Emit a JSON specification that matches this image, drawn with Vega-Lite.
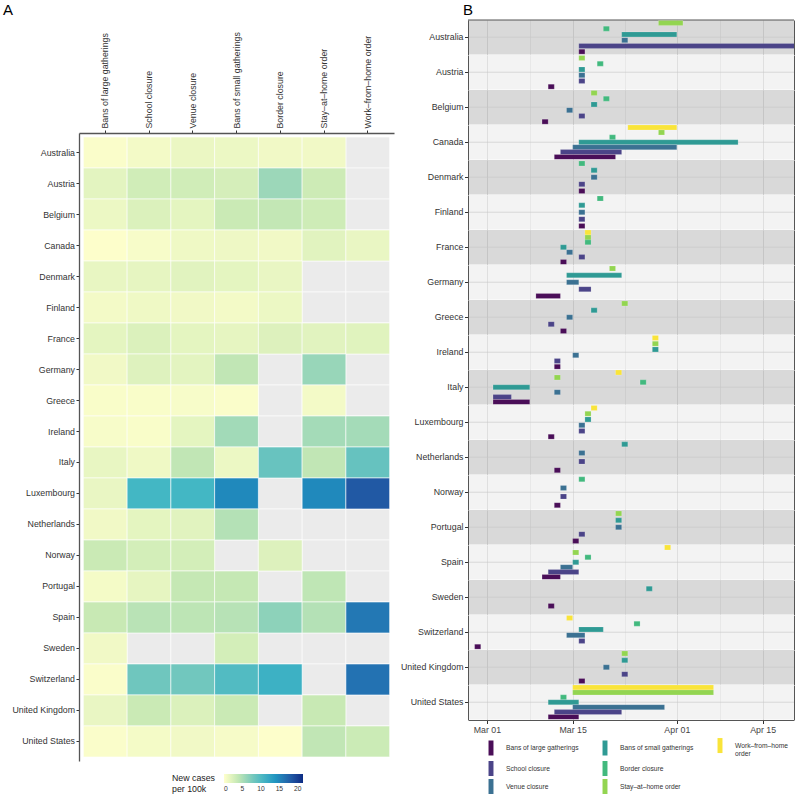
{
  "$schema": "https://vega.github.io/schema/vega-lite/v6.json",
  "padding": {"left": 3, "top": 2, "right": 0, "bottom": 0},
  "config": {
    "font": "Liberation Sans",
    "view": {"stroke": null},
    "axis": {"labelFont": "Liberation Sans", "labelFontSize": 8.8, "labelColor": "#333333", "tickColor": "#333333", "domainColor": "#555555", "tickSize": 3.5, "titleFontWeight": "normal"},
    "header": {"labelFont": "Liberation Sans"},
    "legend": {"labelFont": "Liberation Sans", "titleFont": "Liberation Sans"},
    "title": {"font": "Liberation Sans", "fontSize": 15, "fontWeight": "normal", "anchor": "start", "color": "#000000"}
  },
  "datasets": {
    "heat": [
      {"country": "Australia", "measure": "Bans of large gatherings", "value": 0.3},
      {"country": "Australia", "measure": "School closure", "value": 0.8},
      {"country": "Australia", "measure": "Venue closure", "value": 1.3},
      {"country": "Australia", "measure": "Bans of small gatherings", "value": 1.2},
      {"country": "Australia", "measure": "Border closure", "value": 0.9},
      {"country": "Australia", "measure": "Stay–at–home order", "value": 0.9},
      {"country": "Australia", "measure": "Work–from–home order", "value": null},
      {"country": "Austria", "measure": "Bans of large gatherings", "value": 1.8},
      {"country": "Austria", "measure": "School closure", "value": 3.0},
      {"country": "Austria", "measure": "Venue closure", "value": 3.0},
      {"country": "Austria", "measure": "Bans of small gatherings", "value": 2.7},
      {"country": "Austria", "measure": "Border closure", "value": 5.8},
      {"country": "Austria", "measure": "Stay–at–home order", "value": 3.2},
      {"country": "Austria", "measure": "Work–from–home order", "value": null},
      {"country": "Belgium", "measure": "Bans of large gatherings", "value": 1.2},
      {"country": "Belgium", "measure": "School closure", "value": 2.3},
      {"country": "Belgium", "measure": "Venue closure", "value": 1.7},
      {"country": "Belgium", "measure": "Bans of small gatherings", "value": 3.4},
      {"country": "Belgium", "measure": "Border closure", "value": 3.8},
      {"country": "Belgium", "measure": "Stay–at–home order", "value": 3.1},
      {"country": "Belgium", "measure": "Work–from–home order", "value": null},
      {"country": "Canada", "measure": "Bans of large gatherings", "value": 0.1},
      {"country": "Canada", "measure": "School closure", "value": 0.5},
      {"country": "Canada", "measure": "Venue closure", "value": 1.0},
      {"country": "Canada", "measure": "Bans of small gatherings", "value": 1.1},
      {"country": "Canada", "measure": "Border closure", "value": 0.9},
      {"country": "Canada", "measure": "Stay–at–home order", "value": 1.9},
      {"country": "Canada", "measure": "Work–from–home order", "value": 1.4},
      {"country": "Denmark", "measure": "Bans of large gatherings", "value": 1.5},
      {"country": "Denmark", "measure": "School closure", "value": 1.6},
      {"country": "Denmark", "measure": "Venue closure", "value": 1.9},
      {"country": "Denmark", "measure": "Bans of small gatherings", "value": 1.7},
      {"country": "Denmark", "measure": "Border closure", "value": 1.4},
      {"country": "Denmark", "measure": "Stay–at–home order", "value": null},
      {"country": "Denmark", "measure": "Work–from–home order", "value": null},
      {"country": "Finland", "measure": "Bans of large gatherings", "value": 0.8},
      {"country": "Finland", "measure": "School closure", "value": 1.0},
      {"country": "Finland", "measure": "Venue closure", "value": 0.9},
      {"country": "Finland", "measure": "Bans of small gatherings", "value": 0.8},
      {"country": "Finland", "measure": "Border closure", "value": 1.2},
      {"country": "Finland", "measure": "Stay–at–home order", "value": null},
      {"country": "Finland", "measure": "Work–from–home order", "value": null},
      {"country": "France", "measure": "Bans of large gatherings", "value": 1.7},
      {"country": "France", "measure": "School closure", "value": 2.3},
      {"country": "France", "measure": "Venue closure", "value": 1.7},
      {"country": "France", "measure": "Bans of small gatherings", "value": 1.6},
      {"country": "France", "measure": "Border closure", "value": 2.2},
      {"country": "France", "measure": "Stay–at–home order", "value": 1.9},
      {"country": "France", "measure": "Work–from–home order", "value": 2.0},
      {"country": "Germany", "measure": "Bans of large gatherings", "value": 0.9},
      {"country": "Germany", "measure": "School closure", "value": 2.1},
      {"country": "Germany", "measure": "Venue closure", "value": 1.8},
      {"country": "Germany", "measure": "Bans of small gatherings", "value": 3.9},
      {"country": "Germany", "measure": "Border closure", "value": null},
      {"country": "Germany", "measure": "Stay–at–home order", "value": 6.0},
      {"country": "Germany", "measure": "Work–from–home order", "value": null},
      {"country": "Greece", "measure": "Bans of large gatherings", "value": 0.4},
      {"country": "Greece", "measure": "School closure", "value": 0.4},
      {"country": "Greece", "measure": "Venue closure", "value": 0.5},
      {"country": "Greece", "measure": "Bans of small gatherings", "value": 0.3},
      {"country": "Greece", "measure": "Border closure", "value": null},
      {"country": "Greece", "measure": "Stay–at–home order", "value": 0.8},
      {"country": "Greece", "measure": "Work–from–home order", "value": null},
      {"country": "Ireland", "measure": "Bans of large gatherings", "value": 0.5},
      {"country": "Ireland", "measure": "School closure", "value": 0.4},
      {"country": "Ireland", "measure": "Venue closure", "value": 1.7},
      {"country": "Ireland", "measure": "Bans of small gatherings", "value": 5.5},
      {"country": "Ireland", "measure": "Border closure", "value": null},
      {"country": "Ireland", "measure": "Stay–at–home order", "value": 5.4},
      {"country": "Ireland", "measure": "Work–from–home order", "value": 5.4},
      {"country": "Italy", "measure": "Bans of large gatherings", "value": 1.5},
      {"country": "Italy", "measure": "School closure", "value": 1.0},
      {"country": "Italy", "measure": "Venue closure", "value": 3.9},
      {"country": "Italy", "measure": "Bans of small gatherings", "value": 1.2},
      {"country": "Italy", "measure": "Border closure", "value": 8.7},
      {"country": "Italy", "measure": "Stay–at–home order", "value": 3.9},
      {"country": "Italy", "measure": "Work–from–home order", "value": 8.8},
      {"country": "Luxembourg", "measure": "Bans of large gatherings", "value": 1.4},
      {"country": "Luxembourg", "measure": "School closure", "value": 10.6},
      {"country": "Luxembourg", "measure": "Venue closure", "value": 10.6},
      {"country": "Luxembourg", "measure": "Bans of small gatherings", "value": 14.8},
      {"country": "Luxembourg", "measure": "Border closure", "value": null},
      {"country": "Luxembourg", "measure": "Stay–at–home order", "value": 14.8},
      {"country": "Luxembourg", "measure": "Work–from–home order", "value": 18.2},
      {"country": "Netherlands", "measure": "Bans of large gatherings", "value": 0.9},
      {"country": "Netherlands", "measure": "School closure", "value": 1.7},
      {"country": "Netherlands", "measure": "Venue closure", "value": 1.9},
      {"country": "Netherlands", "measure": "Bans of small gatherings", "value": 4.6},
      {"country": "Netherlands", "measure": "Border closure", "value": null},
      {"country": "Netherlands", "measure": "Stay–at–home order", "value": null},
      {"country": "Netherlands", "measure": "Work–from–home order", "value": null},
      {"country": "Norway", "measure": "Bans of large gatherings", "value": 3.4},
      {"country": "Norway", "measure": "School closure", "value": 2.8},
      {"country": "Norway", "measure": "Venue closure", "value": 2.8},
      {"country": "Norway", "measure": "Bans of small gatherings", "value": null},
      {"country": "Norway", "measure": "Border closure", "value": 2.2},
      {"country": "Norway", "measure": "Stay–at–home order", "value": null},
      {"country": "Norway", "measure": "Work–from–home order", "value": null},
      {"country": "Portugal", "measure": "Bans of large gatherings", "value": 0.7},
      {"country": "Portugal", "measure": "School closure", "value": 1.6},
      {"country": "Portugal", "measure": "Venue closure", "value": 3.7},
      {"country": "Portugal", "measure": "Bans of small gatherings", "value": 3.7},
      {"country": "Portugal", "measure": "Border closure", "value": null},
      {"country": "Portugal", "measure": "Stay–at–home order", "value": 4.0},
      {"country": "Portugal", "measure": "Work–from–home order", "value": null},
      {"country": "Spain", "measure": "Bans of large gatherings", "value": 3.5},
      {"country": "Spain", "measure": "School closure", "value": 4.3},
      {"country": "Spain", "measure": "Venue closure", "value": 4.1},
      {"country": "Spain", "measure": "Bans of small gatherings", "value": 4.4},
      {"country": "Spain", "measure": "Border closure", "value": 6.5},
      {"country": "Spain", "measure": "Stay–at–home order", "value": 4.6},
      {"country": "Spain", "measure": "Work–from–home order", "value": 16.0},
      {"country": "Sweden", "measure": "Bans of large gatherings", "value": 0.9},
      {"country": "Sweden", "measure": "School closure", "value": null},
      {"country": "Sweden", "measure": "Venue closure", "value": null},
      {"country": "Sweden", "measure": "Bans of small gatherings", "value": 2.8},
      {"country": "Sweden", "measure": "Border closure", "value": null},
      {"country": "Sweden", "measure": "Stay–at–home order", "value": null},
      {"country": "Sweden", "measure": "Work–from–home order", "value": null},
      {"country": "Switzerland", "measure": "Bans of large gatherings", "value": 0.3},
      {"country": "Switzerland", "measure": "School closure", "value": 8.2},
      {"country": "Switzerland", "measure": "Venue closure", "value": 8.1},
      {"country": "Switzerland", "measure": "Bans of small gatherings", "value": 9.9},
      {"country": "Switzerland", "measure": "Border closure", "value": 11.2},
      {"country": "Switzerland", "measure": "Stay–at–home order", "value": null},
      {"country": "Switzerland", "measure": "Work–from–home order", "value": 16.4},
      {"country": "United Kingdom", "measure": "Bans of large gatherings", "value": 1.4},
      {"country": "United Kingdom", "measure": "School closure", "value": 3.4},
      {"country": "United Kingdom", "measure": "Venue closure", "value": 2.3},
      {"country": "United Kingdom", "measure": "Bans of small gatherings", "value": 3.4},
      {"country": "United Kingdom", "measure": "Border closure", "value": null},
      {"country": "United Kingdom", "measure": "Stay–at–home order", "value": 3.5},
      {"country": "United Kingdom", "measure": "Work–from–home order", "value": null},
      {"country": "United States", "measure": "Bans of large gatherings", "value": 0.3},
      {"country": "United States", "measure": "School closure", "value": 0.7},
      {"country": "United States", "measure": "Venue closure", "value": 0.9},
      {"country": "United States", "measure": "Bans of small gatherings", "value": 0.6},
      {"country": "United States", "measure": "Border closure", "value": 0.1},
      {"country": "United States", "measure": "Stay–at–home order", "value": 3.9},
      {"country": "United States", "measure": "Work–from–home order", "value": 3.3}
    ],
    "npi": [
      {"country": "Australia", "measure": "Stay–at–home order", "start": "2020-03-29", "end": "2020-04-02"},
      {"country": "Australia", "measure": "Border closure", "start": "2020-03-20", "end": "2020-03-21"},
      {"country": "Australia", "measure": "Bans of small gatherings", "start": "2020-03-23", "end": "2020-04-01"},
      {"country": "Australia", "measure": "Venue closure", "start": "2020-03-23", "end": "2020-03-24"},
      {"country": "Australia", "measure": "School closure", "start": "2020-03-16", "end": "2020-04-30"},
      {"country": "Australia", "measure": "Bans of large gatherings", "start": "2020-03-16", "end": "2020-03-17"},
      {"country": "Austria", "measure": "Stay–at–home order", "start": "2020-03-16", "end": "2020-03-17"},
      {"country": "Austria", "measure": "Border closure", "start": "2020-03-19", "end": "2020-03-20"},
      {"country": "Austria", "measure": "Bans of small gatherings", "start": "2020-03-16", "end": "2020-03-17"},
      {"country": "Austria", "measure": "Venue closure", "start": "2020-03-16", "end": "2020-03-17"},
      {"country": "Austria", "measure": "School closure", "start": "2020-03-16", "end": "2020-03-17"},
      {"country": "Austria", "measure": "Bans of large gatherings", "start": "2020-03-11", "end": "2020-03-12"},
      {"country": "Belgium", "measure": "Stay–at–home order", "start": "2020-03-18", "end": "2020-03-19"},
      {"country": "Belgium", "measure": "Border closure", "start": "2020-03-20", "end": "2020-03-21"},
      {"country": "Belgium", "measure": "Bans of small gatherings", "start": "2020-03-18", "end": "2020-03-19"},
      {"country": "Belgium", "measure": "Venue closure", "start": "2020-03-14", "end": "2020-03-15"},
      {"country": "Belgium", "measure": "School closure", "start": "2020-03-16", "end": "2020-03-17"},
      {"country": "Belgium", "measure": "Bans of large gatherings", "start": "2020-03-10", "end": "2020-03-11"},
      {"country": "Canada", "measure": "Work–from–home order", "start": "2020-03-24", "end": "2020-04-01"},
      {"country": "Canada", "measure": "Stay–at–home order", "start": "2020-03-29", "end": "2020-03-30"},
      {"country": "Canada", "measure": "Border closure", "start": "2020-03-21", "end": "2020-03-22"},
      {"country": "Canada", "measure": "Bans of small gatherings", "start": "2020-03-16", "end": "2020-04-11"},
      {"country": "Canada", "measure": "Venue closure", "start": "2020-03-15", "end": "2020-04-01"},
      {"country": "Canada", "measure": "School closure", "start": "2020-03-13", "end": "2020-03-23"},
      {"country": "Canada", "measure": "Bans of large gatherings", "start": "2020-03-12", "end": "2020-03-22"},
      {"country": "Denmark", "measure": "Border closure", "start": "2020-03-16", "end": "2020-03-17"},
      {"country": "Denmark", "measure": "Bans of small gatherings", "start": "2020-03-18", "end": "2020-03-19"},
      {"country": "Denmark", "measure": "Venue closure", "start": "2020-03-18", "end": "2020-03-19"},
      {"country": "Denmark", "measure": "School closure", "start": "2020-03-16", "end": "2020-03-17"},
      {"country": "Denmark", "measure": "Bans of large gatherings", "start": "2020-03-16", "end": "2020-03-17"},
      {"country": "Finland", "measure": "Border closure", "start": "2020-03-19", "end": "2020-03-20"},
      {"country": "Finland", "measure": "Bans of small gatherings", "start": "2020-03-16", "end": "2020-03-17"},
      {"country": "Finland", "measure": "Venue closure", "start": "2020-03-16", "end": "2020-03-17"},
      {"country": "Finland", "measure": "School closure", "start": "2020-03-16", "end": "2020-03-17"},
      {"country": "Finland", "measure": "Bans of large gatherings", "start": "2020-03-16", "end": "2020-03-17"},
      {"country": "France", "measure": "Work–from–home order", "start": "2020-03-17", "end": "2020-03-18"},
      {"country": "France", "measure": "Stay–at–home order", "start": "2020-03-17", "end": "2020-03-18"},
      {"country": "France", "measure": "Border closure", "start": "2020-03-17", "end": "2020-03-18"},
      {"country": "France", "measure": "Bans of small gatherings", "start": "2020-03-13", "end": "2020-03-14"},
      {"country": "France", "measure": "Venue closure", "start": "2020-03-14", "end": "2020-03-15"},
      {"country": "France", "measure": "School closure", "start": "2020-03-16", "end": "2020-03-17"},
      {"country": "France", "measure": "Bans of large gatherings", "start": "2020-03-13", "end": "2020-03-14"},
      {"country": "Germany", "measure": "Stay–at–home order", "start": "2020-03-21", "end": "2020-03-22"},
      {"country": "Germany", "measure": "Bans of small gatherings", "start": "2020-03-14", "end": "2020-03-23"},
      {"country": "Germany", "measure": "Venue closure", "start": "2020-03-14", "end": "2020-03-16"},
      {"country": "Germany", "measure": "School closure", "start": "2020-03-16", "end": "2020-03-18"},
      {"country": "Germany", "measure": "Bans of large gatherings", "start": "2020-03-09", "end": "2020-03-13"},
      {"country": "Greece", "measure": "Stay–at–home order", "start": "2020-03-23", "end": "2020-03-24"},
      {"country": "Greece", "measure": "Bans of small gatherings", "start": "2020-03-18", "end": "2020-03-19"},
      {"country": "Greece", "measure": "Venue closure", "start": "2020-03-14", "end": "2020-03-15"},
      {"country": "Greece", "measure": "School closure", "start": "2020-03-11", "end": "2020-03-12"},
      {"country": "Greece", "measure": "Bans of large gatherings", "start": "2020-03-13", "end": "2020-03-14"},
      {"country": "Ireland", "measure": "Work–from–home order", "start": "2020-03-28", "end": "2020-03-29"},
      {"country": "Ireland", "measure": "Stay–at–home order", "start": "2020-03-28", "end": "2020-03-29"},
      {"country": "Ireland", "measure": "Bans of small gatherings", "start": "2020-03-28", "end": "2020-03-29"},
      {"country": "Ireland", "measure": "Venue closure", "start": "2020-03-15", "end": "2020-03-16"},
      {"country": "Ireland", "measure": "School closure", "start": "2020-03-12", "end": "2020-03-13"},
      {"country": "Ireland", "measure": "Bans of large gatherings", "start": "2020-03-12", "end": "2020-03-13"},
      {"country": "Italy", "measure": "Work–from–home order", "start": "2020-03-22", "end": "2020-03-23"},
      {"country": "Italy", "measure": "Stay–at–home order", "start": "2020-03-12", "end": "2020-03-13"},
      {"country": "Italy", "measure": "Border closure", "start": "2020-03-26", "end": "2020-03-27"},
      {"country": "Italy", "measure": "Bans of small gatherings", "start": "2020-03-02", "end": "2020-03-08"},
      {"country": "Italy", "measure": "Venue closure", "start": "2020-03-12", "end": "2020-03-13"},
      {"country": "Italy", "measure": "School closure", "start": "2020-03-02", "end": "2020-03-05"},
      {"country": "Italy", "measure": "Bans of large gatherings", "start": "2020-03-02", "end": "2020-03-08"},
      {"country": "Luxembourg", "measure": "Work–from–home order", "start": "2020-03-18", "end": "2020-03-19"},
      {"country": "Luxembourg", "measure": "Stay–at–home order", "start": "2020-03-17", "end": "2020-03-18"},
      {"country": "Luxembourg", "measure": "Bans of small gatherings", "start": "2020-03-17", "end": "2020-03-18"},
      {"country": "Luxembourg", "measure": "Venue closure", "start": "2020-03-16", "end": "2020-03-17"},
      {"country": "Luxembourg", "measure": "School closure", "start": "2020-03-16", "end": "2020-03-17"},
      {"country": "Luxembourg", "measure": "Bans of large gatherings", "start": "2020-03-11", "end": "2020-03-12"},
      {"country": "Netherlands", "measure": "Bans of small gatherings", "start": "2020-03-23", "end": "2020-03-24"},
      {"country": "Netherlands", "measure": "Venue closure", "start": "2020-03-16", "end": "2020-03-17"},
      {"country": "Netherlands", "measure": "School closure", "start": "2020-03-16", "end": "2020-03-17"},
      {"country": "Netherlands", "measure": "Bans of large gatherings", "start": "2020-03-12", "end": "2020-03-13"},
      {"country": "Norway", "measure": "Border closure", "start": "2020-03-16", "end": "2020-03-17"},
      {"country": "Norway", "measure": "Venue closure", "start": "2020-03-13", "end": "2020-03-14"},
      {"country": "Norway", "measure": "School closure", "start": "2020-03-13", "end": "2020-03-14"},
      {"country": "Norway", "measure": "Bans of large gatherings", "start": "2020-03-12", "end": "2020-03-13"},
      {"country": "Portugal", "measure": "Stay–at–home order", "start": "2020-03-22", "end": "2020-03-23"},
      {"country": "Portugal", "measure": "Bans of small gatherings", "start": "2020-03-22", "end": "2020-03-23"},
      {"country": "Portugal", "measure": "Venue closure", "start": "2020-03-22", "end": "2020-03-23"},
      {"country": "Portugal", "measure": "School closure", "start": "2020-03-16", "end": "2020-03-17"},
      {"country": "Portugal", "measure": "Bans of large gatherings", "start": "2020-03-15", "end": "2020-03-16"},
      {"country": "Spain", "measure": "Work–from–home order", "start": "2020-03-30", "end": "2020-03-31"},
      {"country": "Spain", "measure": "Stay–at–home order", "start": "2020-03-15", "end": "2020-03-16"},
      {"country": "Spain", "measure": "Border closure", "start": "2020-03-17", "end": "2020-03-18"},
      {"country": "Spain", "measure": "Bans of small gatherings", "start": "2020-03-15", "end": "2020-03-16"},
      {"country": "Spain", "measure": "Venue closure", "start": "2020-03-13", "end": "2020-03-15"},
      {"country": "Spain", "measure": "School closure", "start": "2020-03-11", "end": "2020-03-16"},
      {"country": "Spain", "measure": "Bans of large gatherings", "start": "2020-03-10", "end": "2020-03-13"},
      {"country": "Sweden", "measure": "Bans of small gatherings", "start": "2020-03-27", "end": "2020-03-28"},
      {"country": "Sweden", "measure": "Bans of large gatherings", "start": "2020-03-11", "end": "2020-03-12"},
      {"country": "Switzerland", "measure": "Work–from–home order", "start": "2020-03-14", "end": "2020-03-15"},
      {"country": "Switzerland", "measure": "Border closure", "start": "2020-03-25", "end": "2020-03-26"},
      {"country": "Switzerland", "measure": "Bans of small gatherings", "start": "2020-03-16", "end": "2020-03-20"},
      {"country": "Switzerland", "measure": "Venue closure", "start": "2020-03-14", "end": "2020-03-17"},
      {"country": "Switzerland", "measure": "School closure", "start": "2020-03-16", "end": "2020-03-17"},
      {"country": "Switzerland", "measure": "Bans of large gatherings", "start": "2020-02-28", "end": "2020-02-29"},
      {"country": "United Kingdom", "measure": "Stay–at–home order", "start": "2020-03-23", "end": "2020-03-24"},
      {"country": "United Kingdom", "measure": "Bans of small gatherings", "start": "2020-03-23", "end": "2020-03-24"},
      {"country": "United Kingdom", "measure": "Venue closure", "start": "2020-03-20", "end": "2020-03-21"},
      {"country": "United Kingdom", "measure": "School closure", "start": "2020-03-23", "end": "2020-03-24"},
      {"country": "United Kingdom", "measure": "Bans of large gatherings", "start": "2020-03-16", "end": "2020-03-17"},
      {"country": "United States", "measure": "Work–from–home order", "start": "2020-03-15", "end": "2020-04-07"},
      {"country": "United States", "measure": "Stay–at–home order", "start": "2020-03-15", "end": "2020-04-07"},
      {"country": "United States", "measure": "Border closure", "start": "2020-03-13", "end": "2020-03-14"},
      {"country": "United States", "measure": "Bans of small gatherings", "start": "2020-03-11", "end": "2020-03-16"},
      {"country": "United States", "measure": "Venue closure", "start": "2020-03-15", "end": "2020-03-30"},
      {"country": "United States", "measure": "School closure", "start": "2020-03-12", "end": "2020-03-23"},
      {"country": "United States", "measure": "Bans of large gatherings", "start": "2020-03-11", "end": "2020-03-16"}
    ]
  },
  "spacing": 6,
  "resolve": {"scale": {"color": "independent", "fill": "independent"}},
  "hconcat": [
    {
      "title": {"text": "A", "frame": "group", "dx": -76, "offset": 2},
      "data": {"name": "heat"},
      "width": 315,
      "height": 741,
      "encoding": {
        "x": {"field": "measure", "type": "nominal",
          "sort": ["Bans of large gatherings", "School closure", "Venue closure", "Bans of small gatherings", "Border closure", "Stay–at–home order", "Work–from–home order"],
          "scale": {"paddingInner": 0, "paddingOuter": 0.1},
          "axis": {"orient": "top", "offset": -113, "title": null, "labelAngle": -90, "labelAlign": "left", "labelBaseline": "middle", "labelPadding": 2, "tickSize": 3, "domainColor": "#555555", "domainWidth": 1.3, "labelLimit": 200}},
        "y": {"field": "country", "type": "nominal",
          "scale": {"paddingInner": 0, "paddingOuter": 0.13, "range": [113, 741]},
          "axis": {"title": null, "labelPadding": 1.5, "tickSize": 3, "domainColor": "#555555", "domainWidth": 1.3}}
      },
      "layer": [
        {"mark": {"type": "rect", "fill": "#ebebeb", "stroke": "#ffffff", "strokeWidth": 0.6}},
        {"transform": [{"filter": "isValid(datum.value)"}],
         "mark": {"type": "rect", "stroke": "#ffffff", "strokeWidth": 0.6, "opacity": 1},
         "encoding": {
           "color": {"field": "value", "type": "quantitative",
             "scale": {"domain": [0, 21.4], "range": ["#ffffcc", "#c7e9b4", "#7fcdbb", "#41b6c4", "#1d91c0", "#225ea8", "#0c2c84"], "interpolate": "lab"},
             "legend": {"title": ["New cases", "per 100k"], "orient": "none", "legendX": 93, "legendY": 754, "direction": "horizontal", "titleOrient": "left", "titleAnchor": "start", "titleBaseline": "top", "titleLineHeight": 11, "titleFontSize": 8.8, "titleFontWeight": "normal", "titleColor": "#1a1a1a", "titlePadding": 8, "gradientLength": 79, "gradientThickness": 9, "gradientStrokeWidth": 0, "values": [0, 5, 10, 15, 20], "labelFontSize": 6.7, "labelColor": "#333333", "labelOffset": 3}}
         }}
      ]
    },
    {
      "title": {"text": "B", "frame": "group", "dx": -5, "offset": 2},
      "data": {"name": "npi"},
      "facet": {"row": {"field": "country", "type": "nominal", "title": null, "header": {"labels": false, "title": null}}},
      "spacing": 0,
      "resolve": {"scale": {"y": "independent"}},
      "spec": {
        "width": 326,
        "height": 34.5,
        "resolve": {"scale": {"y": "independent"}},
        "layer": [
          {
            "transform": [{"aggregate": [{"op": "count", "as": "n"}], "groupby": ["country"]}],
            "mark": {"type": "rect", "opacity": 0.5},
            "encoding": {
              "y": {"field": "country", "type": "nominal", "scale": {"paddingInner": 0, "paddingOuter": 0},
                "axis": {"title": null, "labelPadding": 1.5, "tickSize": 3.5, "grid": false, "domainColor": "#555555", "labelFontSize": 8.8, "labelColor": "#333333"}},
              "fill": {"field": "country", "type": "nominal", "legend": null,
                "scale": {"domain": ["Australia", "Austria", "Belgium", "Canada", "Denmark", "Finland", "France", "Germany", "Greece", "Ireland", "Italy", "Luxembourg", "Netherlands", "Norway", "Portugal", "Spain", "Sweden", "Switzerland", "United Kingdom", "United States"],
                  "range": ["#b3b3b3", "#e8e8e8", "#b3b3b3", "#e8e8e8", "#b3b3b3", "#e8e8e8", "#b3b3b3", "#e8e8e8", "#b3b3b3", "#e8e8e8", "#b3b3b3", "#e8e8e8", "#b3b3b3", "#e8e8e8", "#b3b3b3", "#e8e8e8", "#b3b3b3", "#e8e8e8", "#b3b3b3", "#e8e8e8"]}}
            }
          },
          {
            "transform": [{"aggregate": [{"op": "count", "as": "n"}], "groupby": ["country"]}],
            "mark": {"type": "rule", "color": "#c8c8c8", "strokeWidth": 0.6},
            "encoding": {"y": {"field": "country", "type": "nominal", "scale": {"paddingInner": 0, "paddingOuter": 0}, "axis": null}}
          },
          {
            "transform": [{"filter": "datum.country == 'Australia'"}, {"aggregate": [{"op": "count", "as": "n"}], "groupby": ["country"]}],
            "mark": {"type": "rule", "color": "#555555", "strokeWidth": 1},
            "encoding": {"y": {"datum": 1, "type": "quantitative", "scale": {"domain": [0, 1], "nice": false, "zero": false}, "axis": null}}
          },
          {
            "mark": {"type": "bar", "height": 5, "opacity": 1, "stroke": "#ffffff", "strokeWidth": 0.3, "strokeOpacity": 0.6, "clip": true},
            "encoding": {
              "x": {"field": "start", "type": "temporal", "title": null,
                "scale": {"type": "utc", "domain": [{"year": 2020, "month": 2, "date": 26, "hours": 22, "utc": true}, {"year": 2020, "month": 4, "date": 20, "hours": 3, "utc": true}]},
                "axis": {
                  "values": [{"year": 2020, "month": 3, "date": 1, "utc": true}, {"year": 2020, "month": 3, "date": 8, "utc": true}, {"year": 2020, "month": 3, "date": 15, "utc": true}, {"year": 2020, "month": 3, "date": 23, "hours": 12, "utc": true}, {"year": 2020, "month": 4, "date": 1, "utc": true}, {"year": 2020, "month": 4, "date": 8, "utc": true}, {"year": 2020, "month": 4, "date": 15, "utc": true}],
                  "labelExpr": "(utcdate(datum.value) == 1 || utcdate(datum.value) == 15) ? utcFormat(datum.value, '%b %d') : ''",
                  "gridColor": {"condition": {"test": "utcdate(datum.value) == 1 || utcdate(datum.value) == 15", "value": "#c4c4c4"}, "value": "#dedede"},
                  "gridWidth": 0.7,
                  "tickOpacity": {"condition": {"test": "utcdate(datum.value) == 1 || utcdate(datum.value) == 15", "value": 1}, "value": 0},
                  "tickSize": 3.5, "labelPadding": 2, "labelFlush": false, "labelOverlap": false, "domainColor": "#555555", "labelColor": "#444444"}},
              "x2": {"field": "end"},
              "y": {"field": "measure", "type": "nominal",
                "sort": ["Work–from–home order", "Stay–at–home order", "Border closure", "Bans of small gatherings", "Venue closure", "School closure", "Bans of large gatherings"],
                "scale": {"paddingInner": 0, "paddingOuter": 0},
                "axis": {"orient": "right", "labels": false, "ticks": false, "title": null, "grid": false, "domainColor": "#555555"}},
              "color": {"field": "measure", "type": "nominal",
                "scale": {"domain": ["Bans of large gatherings", "Bans of small gatherings", "Work–from–home order", "School closure", "Border closure", " ", "Venue closure", "Stay–at–home order"],
                  "range": ["#4a0e58", "#2f9a94", "#f9e43a", "#4b4488", "#42b97e", "rgba(0,0,0,0)", "#3b7192", "#93d551"]},
                "legend": {"title": null, "orient": "none", "legendX": 15.5, "legendY": 718, "direction": "horizontal", "columns": 3,
                  "symbolType": "M-0.33,-1H0.33V1H-0.33Z", "symbolSize": 225, "symbolStrokeWidth": 0, "symbolOpacity": 1,
                  "labelFontSize": 6.7, "labelColor": "#333333", "labelOffset": 7.5, "columnPadding": 19, "rowPadding": 3, "labelLimit": 200,
                  "labelExpr": "datum.label == 'Work–from–home order' ? ['Work–from–home', 'order'] : datum.label"}}
            }
          }
        ]
      }
    }
  ]
}
